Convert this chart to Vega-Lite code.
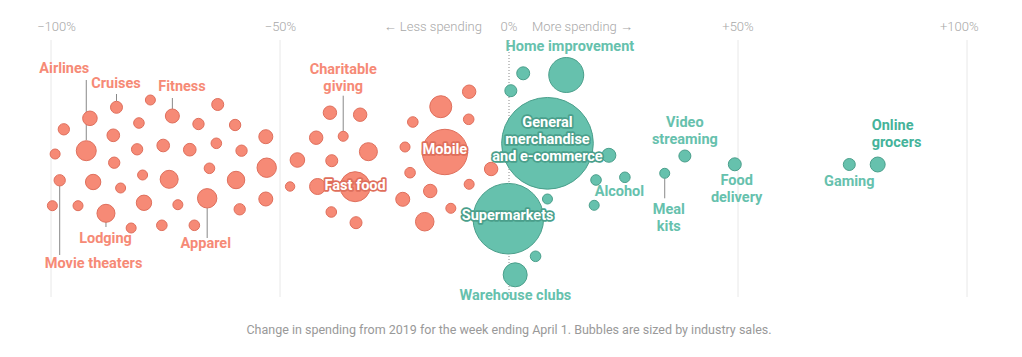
{
  "$schema": "https://vega.github.io/schema/vega-lite/v6.json",
  "width": 916,
  "height": 257,
  "autosize": {"type": "none"},
  "padding": {"left": 51, "top": 40, "right": 55, "bottom": 60},
  "background": "white",
  "config": {"view": {"stroke": null}},
  "title": {
    "text": "Change in spending from 2019 for the week ending April 1. Bubbles are sized by industry sales.",
    "orient": "bottom",
    "anchor": "middle",
    "offset": 22,
    "font": "Roboto",
    "fontSize": 12.5,
    "fontWeight": "normal",
    "color": "#999999"
  },
  "datasets": {
    "grid": [{"x": -100}, {"x": -50}, {"x": 50}, {"x": 100}],
    "zero": [{"x": 0}],
    "ticks": [
      {"x": -98.8, "lane": 137, "t": "−100%"},
      {"x": -49.9, "lane": 137, "t": "−50%"},
      {"x": 0, "lane": 137, "t": "0%"},
      {"x": 50, "lane": 137, "t": "+50%"},
      {"x": 98.3, "lane": 137, "t": "+100%"}
    ],
    "less": [{"x": -5.9, "lane": 137, "t": "← Less spending"}],
    "more": [{"x": 5.0, "lane": 137, "t": "More spending →"}],
    "leaders": [
      {"x": -92.3, "lane": 84, "lane2": 24},
      {"x": -85.7, "lane": 70, "lane2": 63},
      {"x": -73.5, "lane": 66, "lane2": 55},
      {"x": -36.2, "lane": 68.3, "lane2": 32.7},
      {"x": -98.1, "lane": -22, "lane2": -91},
      {"x": -88.0, "lane": -58, "lane2": -63},
      {"x": -65.9, "lane": -44, "lane2": -74},
      {"x": 34.0, "lane": -14.3, "lane2": -34.3}
    ],
    "bubbles": [
      {"name": "Airlines", "x": -92.3, "lane": 13.3, "sales": 100, "dir": "neg"},
      {"x": -91.5, "lane": 45.7, "sales": 53, "dir": "neg"},
      {"x": -97.2, "lane": 34.7, "sales": 32, "dir": "neg"},
      {"x": -99.1, "lane": 10, "sales": 25, "dir": "neg"},
      {"name": "Cruises", "x": -85.7, "lane": 56.7, "sales": 36, "dir": "neg"},
      {"x": -78.3, "lane": 64, "sales": 25, "dir": "neg"},
      {"x": -86.4, "lane": 28.7, "sales": 40, "dir": "neg"},
      {"x": -80.8, "lane": 41, "sales": 28, "dir": "neg"},
      {"name": "Fitness", "x": -73.5, "lane": 48, "sales": 49, "dir": "neg"},
      {"x": -67.8, "lane": 40, "sales": 32, "dir": "neg"},
      {"x": -63.6, "lane": 59.5, "sales": 36, "dir": "neg"},
      {"x": -59.8, "lane": 39, "sales": 32, "dir": "neg"},
      {"x": -53.1, "lane": 27.3, "sales": 49, "dir": "neg"},
      {"x": -81.2, "lane": 14.7, "sales": 32, "dir": "neg"},
      {"x": -75.5, "lane": 18.5, "sales": 40, "dir": "neg"},
      {"x": -69.7, "lane": 14.3, "sales": 40, "dir": "neg"},
      {"x": -63.9, "lane": 20.7, "sales": 28, "dir": "neg"},
      {"x": -58.4, "lane": 13.3, "sales": 32, "dir": "neg"},
      {"x": -86.2, "lane": 1.3, "sales": 32, "dir": "neg"},
      {"x": -52.9, "lane": -3.7, "sales": 94, "dir": "neg"},
      {"x": -46.2, "lane": 4, "sales": 53, "dir": "neg"},
      {"x": -39.1, "lane": 51.3, "sales": 45, "dir": "neg"},
      {"x": -42.1, "lane": 26.3, "sales": 45, "dir": "neg"},
      {"name": "Movie theaters", "x": -98.1, "lane": -16.3, "sales": 32, "dir": "neg"},
      {"x": -90.8, "lane": -18, "sales": 59, "dir": "neg"},
      {"x": -84.8, "lane": -24, "sales": 25, "dir": "neg"},
      {"x": -80.0, "lane": -11, "sales": 25, "dir": "neg"},
      {"x": -74.2, "lane": -15.3, "sales": 81, "dir": "neg"},
      {"x": -65.4, "lane": -4.3, "sales": 28, "dir": "neg"},
      {"x": -59.6, "lane": -16, "sales": 76, "dir": "neg"},
      {"x": -38.7, "lane": 3.3, "sales": 36, "dir": "neg"},
      {"x": -99.7, "lane": -41.7, "sales": 25, "dir": "neg"},
      {"x": -94.1, "lane": -41.7, "sales": 25, "dir": "neg"},
      {"name": "Lodging", "x": -88.0, "lane": -49.3, "sales": 81, "dir": "neg"},
      {"x": -79.7, "lane": -38.8, "sales": 59, "dir": "neg"},
      {"x": -72.3, "lane": -40.7, "sales": 25, "dir": "neg"},
      {"name": "Apparel", "x": -65.9, "lane": -34.3, "sales": 94, "dir": "neg"},
      {"x": -58.8, "lane": -45.3, "sales": 32, "dir": "neg"},
      {"x": -53.1, "lane": -35, "sales": 49, "dir": "neg"},
      {"x": -82.5, "lane": -64, "sales": 25, "dir": "neg"},
      {"x": -75.8, "lane": -61.3, "sales": 28, "dir": "neg"},
      {"x": -68.7, "lane": -61.3, "sales": 28, "dir": "neg"},
      {"x": -47.8, "lane": -22.5, "sales": 22, "dir": "neg"},
      {"x": -41.8, "lane": -22.5, "sales": 64, "dir": "neg"},
      {"x": -38.8, "lane": -48, "sales": 28, "dir": "neg"},
      {"x": -32.5, "lane": 49.3, "sales": 45, "dir": "neg"},
      {"name": "Charitable giving", "x": -36.2, "lane": 27.7, "sales": 25, "dir": "neg"},
      {"x": -30.7, "lane": 12.3, "sales": 81, "dir": "neg"},
      {"name": "Fast food", "x": -33.6, "lane": -22.7, "sales": 225, "dir": "neg"},
      {"x": -33.4, "lane": -58.7, "sales": 36, "dir": "neg"},
      {"x": -8.7, "lane": 72.3, "sales": 45, "dir": "neg"},
      {"x": -14.9, "lane": 57.3, "sales": 121, "dir": "neg"},
      {"x": -21.0, "lane": 42, "sales": 28, "dir": "neg"},
      {"x": -8.8, "lane": 44.7, "sales": 28, "dir": "neg"},
      {"x": -22.7, "lane": 17, "sales": 25, "dir": "neg"},
      {"name": "Mobile", "x": -14.0, "lane": 12, "sales": 515, "dir": "neg"},
      {"x": -21.6, "lane": -8.7, "sales": 28, "dir": "neg"},
      {"x": -3.9, "lane": -5, "sales": 45, "dir": "neg"},
      {"x": -17.2, "lane": -27, "sales": 45, "dir": "neg"},
      {"x": -8.7, "lane": -20.3, "sales": 25, "dir": "neg"},
      {"x": -23.2, "lane": -35.3, "sales": 49, "dir": "neg"},
      {"x": -12.7, "lane": -44.3, "sales": 25, "dir": "neg"},
      {"x": -18.4, "lane": -57.7, "sales": 86, "dir": "neg"},
      {"name": "Home improvement", "x": 12.5, "lane": 89, "sales": 306, "dir": "pos"},
      {"x": 3.1, "lane": 90.7, "sales": 42, "dir": "pos"},
      {"x": 0.4, "lane": 73.3, "sales": 36, "dir": "pos"},
      {"name": "General merchandise and e-commerce", "x": 8.4, "lane": 20.7, "sales": 2100, "dir": "pos"},
      {"x": 21.8, "lane": 8.7, "sales": 49, "dir": "pos"},
      {"x": 19.0, "lane": -16, "sales": 28, "dir": "pos"},
      {"name": "Alcohol", "x": 25.3, "lane": -13.3, "sales": 28, "dir": "pos"},
      {"x": 18.6, "lane": -41.3, "sales": 25, "dir": "pos"},
      {"x": 8.4, "lane": -35, "sales": 25, "dir": "pos"},
      {"name": "Supermarkets", "x": -0.15, "lane": -54.7, "sales": 1246, "dir": "pos"},
      {"x": 5.8, "lane": -92.3, "sales": 28, "dir": "pos"},
      {"name": "Warehouse clubs", "x": 1.35, "lane": -110.8, "sales": 144, "dir": "pos"},
      {"name": "Video streaming", "x": 38.4, "lane": 8, "sales": 36, "dir": "pos"},
      {"name": "Meal kits", "x": 34.0, "lane": -9.3, "sales": 25, "dir": "pos"},
      {"name": "Food delivery", "x": 49.3, "lane": -0.3, "sales": 42, "dir": "pos"},
      {"name": "Gaming", "x": 74.3, "lane": -0.5, "sales": 36, "dir": "pos"},
      {"name": "Online grocers", "x": 80.5, "lane": -0.5, "sales": 56, "dir": "pos"}
    ],
    "labels": [
      {"t": "Airlines", "x": -97.1, "lane": 95, "dir": "neg"},
      {"t": "Cruises", "x": -85.8, "lane": 80, "dir": "neg"},
      {"t": "Fitness", "x": -71.4, "lane": 77, "dir": "neg"},
      {"t": "Charitable\ngiving", "x": -36.2, "lane": 94, "dir": "neg"},
      {"t": "Lodging", "x": -88.1, "lane": -75.3, "dir": "neg"},
      {"t": "Apparel", "x": -66.2, "lane": -80.3, "dir": "neg"},
      {"t": "Movie theaters", "x": -90.7, "lane": -100.3, "dir": "neg"},
      {"t": "Home improvement", "x": 13.3, "lane": 117, "dir": "pos"},
      {"t": "Warehouse clubs", "x": 1.4, "lane": -131.7, "dir": "pos"},
      {"t": "Alcohol", "x": 24.1, "lane": -28.3, "dir": "pos"},
      {"t": "Meal\nkits", "x": 34.9, "lane": -46.3, "dir": "pos"},
      {"t": "Video\nstreaming", "x": 38.4, "lane": 40.7, "dir": "pos"},
      {"t": "Food\ndelivery", "x": 49.7, "lane": -17, "dir": "pos"},
      {"t": "Gaming", "x": 74.3, "lane": -18.3, "dir": "pos"}
    ],
    "labelsLeft": [
      {"t": "Online\ngrocers", "x": 79.2, "lane": 38, "dir": "pos"}
    ],
    "inner": [
      {"t": "Mobile", "x": -14.0, "lane": 14, "dir": "neg"},
      {"t": "Fast food", "x": -33.6, "lane": -22, "dir": "neg"},
      {"t": "General\nmerchandise\nand e-commerce", "x": 8.4, "lane": 40.7, "dir": "pos"},
      {"t": "Supermarkets", "x": -0.3, "lane": -52, "dir": "pos"}
    ]
  },
  "layer": [
    {
      "data": {"name": "grid"},
      "mark": {"type": "rule", "color": "#e8e8e8", "strokeWidth": 1},
      "encoding": {
        "x": {"field": "x", "type": "quantitative", "scale": {"domain": [-100, 100]}, "axis": null}
      }
    },
    {
      "data": {"name": "zero"},
      "mark": {"type": "rule", "color": "#8a8a8a", "strokeWidth": 1, "strokeDash": [1, 2]},
      "encoding": {
        "x": {"field": "x", "type": "quantitative", "scale": {"domain": [-100, 100]}, "axis": null}
      }
    },
    {
      "data": {"name": "ticks"},
      "mark": {"type": "text", "font": "Roboto", "fontWeight": 300, "fontSize": 13, "color": "#a8a8a8", "align": "center", "baseline": "middle"},
      "encoding": {
        "x": {"field": "x", "type": "quantitative", "scale": {"domain": [-100, 100]}, "axis": null},
        "y": {"field": "lane", "type": "quantitative", "scale": {"domain": [-133, 124], "nice": false, "zero": false}, "axis": null},
        "text": {"field": "t"}
      }
    },
    {
      "data": {"name": "less"},
      "mark": {"type": "text", "font": "Roboto", "fontWeight": 300, "fontSize": 13, "color": "#a8a8a8", "align": "right", "baseline": "middle"},
      "encoding": {
        "x": {"field": "x", "type": "quantitative", "scale": {"domain": [-100, 100]}, "axis": null},
        "y": {"field": "lane", "type": "quantitative", "scale": {"domain": [-133, 124], "nice": false, "zero": false}, "axis": null},
        "text": {"field": "t"}
      }
    },
    {
      "data": {"name": "more"},
      "mark": {"type": "text", "font": "Roboto", "fontWeight": 300, "fontSize": 13, "color": "#a8a8a8", "align": "left", "baseline": "middle"},
      "encoding": {
        "x": {"field": "x", "type": "quantitative", "scale": {"domain": [-100, 100]}, "axis": null},
        "y": {"field": "lane", "type": "quantitative", "scale": {"domain": [-133, 124], "nice": false, "zero": false}, "axis": null},
        "text": {"field": "t"}
      }
    },
    {
      "data": {"name": "leaders"},
      "mark": {"type": "rule", "color": "#888888", "strokeWidth": 1},
      "encoding": {
        "x": {"field": "x", "type": "quantitative", "scale": {"domain": [-100, 100]}, "axis": null},
        "y": {"field": "lane", "type": "quantitative", "scale": {"domain": [-133, 124], "nice": false, "zero": false}, "axis": null},
        "y2": {"field": "lane2"}
      }
    },
    {
      "data": {"name": "bubbles"},
      "mark": {"type": "point", "shape": "circle", "filled": true, "opacity": 1, "strokeWidth": 1},
      "encoding": {
        "x": {"field": "x", "type": "quantitative", "scale": {"domain": [-100, 100]}, "axis": null},
        "y": {"field": "lane", "type": "quantitative", "scale": {"domain": [-133, 124], "nice": false, "zero": false}, "axis": null},
        "size": {"field": "sales", "type": "quantitative", "scale": {"type": "linear", "domain": [0, 2100], "range": [0, 8400], "zero": true}, "legend": null},
        "color": {"field": "dir", "type": "nominal", "scale": {"domain": ["neg", "pos"], "range": ["#f68a76", "#66c1ad"]}, "legend": null},
        "stroke": {"field": "dir", "type": "nominal", "scale": {"domain": ["neg", "pos"], "range": ["#df6f5c", "#4a9f8b"]}, "legend": null},
        "order": {"field": "sales", "type": "quantitative", "sort": "descending"}
      }
    },
    {
      "data": {"name": "labels"},
      "mark": {"type": "text", "font": "Roboto", "fontWeight": "bold", "fontSize": 14.5, "align": "center", "baseline": "middle", "lineBreak": "\n", "lineHeight": 17},
      "encoding": {
        "x": {"field": "x", "type": "quantitative", "scale": {"domain": [-100, 100]}, "axis": null},
        "y": {"field": "lane", "type": "quantitative", "scale": {"domain": [-133, 124], "nice": false, "zero": false}, "axis": null},
        "text": {"field": "t"},
        "color": {"field": "dir", "type": "nominal", "scale": {"domain": ["neg", "pos"], "range": ["#f47840", "#45b39a"]}, "legend": null}
      }
    },
    {
      "data": {"name": "labelsLeft"},
      "mark": {"type": "text", "font": "Roboto", "fontWeight": "bold", "fontSize": 14.5, "align": "left", "baseline": "middle", "lineBreak": "\n", "lineHeight": 17, "color": "#45b39a"},
      "encoding": {
        "x": {"field": "x", "type": "quantitative", "scale": {"domain": [-100, 100]}, "axis": null},
        "y": {"field": "lane", "type": "quantitative", "scale": {"domain": [-133, 124], "nice": false, "zero": false}, "axis": null},
        "text": {"field": "t"}
      }
    },
    {
      "data": {"name": "inner"},
      "mark": {"type": "text", "font": "Roboto", "fontWeight": "bold", "fontSize": 14.5, "align": "center", "baseline": "middle", "lineBreak": "\n", "lineHeight": 16.7, "strokeWidth": 3.5, "strokeJoin": "round"},
      "encoding": {
        "x": {"field": "x", "type": "quantitative", "scale": {"domain": [-100, 100]}, "axis": null},
        "y": {"field": "lane", "type": "quantitative", "scale": {"domain": [-133, 124], "nice": false, "zero": false}, "axis": null},
        "text": {"field": "t"},
        "color": {"field": "dir", "type": "nominal", "scale": {"domain": ["neg", "pos"], "range": ["#f47a60", "#3fae95"]}, "legend": null},
        "stroke": {"field": "dir", "type": "nominal", "scale": {"domain": ["neg", "pos"], "range": ["#f47a60", "#3fae95"]}, "legend": null}
      }
    },
    {
      "data": {"name": "inner"},
      "mark": {"type": "text", "font": "Roboto", "fontWeight": "bold", "fontSize": 14.5, "align": "center", "baseline": "middle", "lineBreak": "\n", "lineHeight": 16.7, "color": "white"},
      "encoding": {
        "x": {"field": "x", "type": "quantitative", "scale": {"domain": [-100, 100]}, "axis": null},
        "y": {"field": "lane", "type": "quantitative", "scale": {"domain": [-133, 124], "nice": false, "zero": false}, "axis": null},
        "text": {"field": "t"}
      }
    }
  ]
}
